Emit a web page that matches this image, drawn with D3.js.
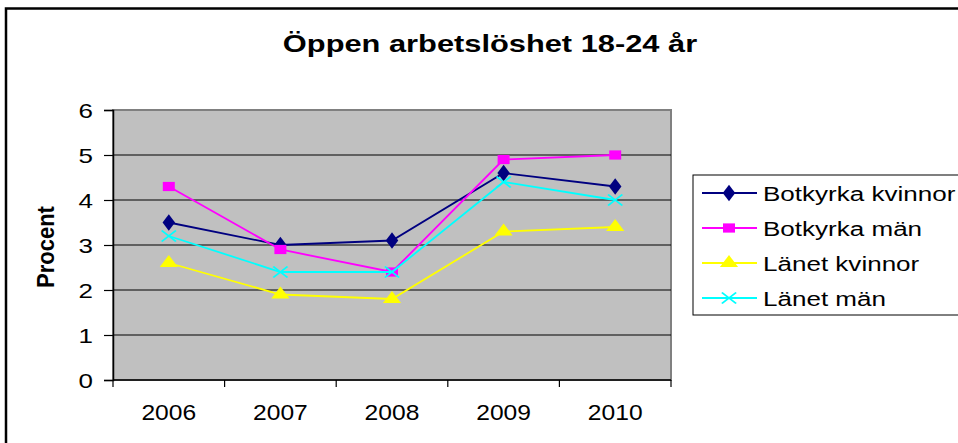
<!DOCTYPE html>
<html><head><meta charset="utf-8">
<script src="https://cdn.jsdelivr.net/npm/d3@7"></script>
<style>body{margin:0;background:#fff;}svg{display:block;font-family:"Liberation Sans",Arial,sans-serif;}</style>
</head><body>
<svg id="c" width="958" height="443"></svg>
<script>
const years = ["2006","2007","2008","2009","2010"];
const botkyrkaKvinnor = [3.5, 3.0, 3.1, 4.6, 4.3];
const botkyrkaMan = [4.3, 2.9, 2.4, 4.9, 5.0];
const lanetKvinnor = [2.6, 1.9, 1.8, 3.3, 3.4];
const lanetMan = [3.2, 2.4, 2.4, 4.4, 4.0];
const yTicks = [0,1,2,3,4,5,6];
const seriesNames = ["Botkyrka kvinnor","Botkyrka män","Länet kvinnor","Länet män"];

const series = [
  {name: seriesNames[0], values: botkyrkaKvinnor, color: "#000080", sym: "diamond"},
  {name: seriesNames[1], values: botkyrkaMan, color: "#ff00ff", sym: "square"},
  {name: seriesNames[2], values: lanetKvinnor, color: "#ffff00", sym: "triangle"},
  {name: seriesNames[3], values: lanetMan, color: "#00ffff", sym: "x"}
];

const svg = d3.select("#c");
const L = 113, R = 671, T = 110, B = 380;

// outer border
svg.append("rect").attr("x", 6).attr("y", 8.5).attr("width", 1000).attr("height", 1000)
  .attr("fill", "none").attr("stroke", "#000").attr("stroke-width", 2.5);

const x = d3.scaleBand().domain(years).range([L, R]).padding(0);
const y = d3.scaleLinear().domain([0, 6]).range([B, T]);
const cx = d => x(d) + x.bandwidth() / 2;

// plot area
svg.append("rect").attr("x", L).attr("y", T).attr("width", R - L).attr("height", B - T)
  .attr("fill", "#c0c0c0").attr("stroke", "#808080").attr("stroke-width", 2);

// gridlines
svg.append("g").selectAll("line").data(yTicks.filter(v => v > 0 && v < 6)).join("line")
  .attr("x1", L).attr("x2", R).attr("y1", d => y(d)).attr("y2", d => y(d))
  .attr("stroke", "#000").attr("stroke-width", 1);

// y axis
const ya = svg.append("g").attr("transform", `translate(${L},0)`)
  .call(d3.axisLeft(y).tickValues(yTicks).tickSize(9).tickPadding(6).tickFormat(d3.format("d")));
ya.select(".domain").attr("stroke", "#000").attr("stroke-width", 1.5);
ya.selectAll(".tick line").attr("stroke", "#000").attr("stroke-width", 1.2);
ya.selectAll(".tick text").attr("font-size", 20).attr("fill", "#000")
  .attr("font-family", "Liberation Sans, Arial, sans-serif")
  .attr("transform", "scale(1.3,1)").attr("x", -20/1.3).attr("dy", "0.36em");

// x axis
const xa = svg.append("g").attr("transform", `translate(0,${B})`)
  .call(d3.axisBottom(x).tickSize(0).tickPadding(24));
xa.select(".domain").remove();
xa.selectAll(".tick text").attr("font-size", 22).attr("fill", "#000")
  .attr("font-family", "Liberation Sans, Arial, sans-serif")
  .attr("transform", "scale(1.12,1)").attr("x", 0);
xa.selectAll(".tick").each(function(d){
  d3.select(this).attr("transform", `translate(${cx(d)},0)`);
});
svg.append("line").attr("x1", L).attr("x2", R).attr("y1", B).attr("y2", B)
  .attr("stroke", "#000").attr("stroke-width", 1.5);
const edges = years.map(d => x(d)).concat([R]);
svg.append("g").selectAll("line").data(edges).join("line")
  .attr("x1", d => d).attr("x2", d => d).attr("y1", B).attr("y2", B + 7)
  .attr("stroke", "#000").attr("stroke-width", 1.2);

// title
svg.append("text").attr("transform", "translate(490,52) scale(1.34,1.05)")
  .attr("text-anchor", "middle").attr("font-size", 23).attr("font-weight", "bold")
  .text("Öppen arbetslöshet 18-24 år");

// y label
svg.append("text").attr("transform", "translate(54,247) rotate(-90) scale(1,1.1)")
  .attr("text-anchor", "middle").attr("font-size", 22).attr("font-weight", "bold")
  .text("Procent");

function symPath(s) {
  const map = {diamond: d3.symbolDiamond, square: d3.symbolSquare, triangle: d3.symbolTriangle, x: d3.symbolTimes};
  const size = {diamond: 80, square: 85, triangle: 85, x: 80}[s];
  return d3.symbol(map[s], size)();
}

const line = d3.line().x((d, i) => cx(years[i])).y(d => y(d));
series.forEach(s => {
  const g = svg.append("g");
  g.append("path").attr("d", line(s.values)).attr("fill", "none")
    .attr("stroke", s.color).attr("stroke-width", 1.8);
  g.selectAll("path.m").data(s.values).join("path").attr("class", "m")
    .attr("d", symPath(s.sym))
    .attr("transform", (d, i) => `translate(${cx(years[i])},${y(d)}) scale(1.3,1)`)
    .attr("fill", s.sym === "x" ? "none" : s.color)
    .attr("stroke", s.sym === "x" ? s.color : "none").attr("stroke-width", 1.6);
});

// legend
const lg = svg.append("g");
lg.append("rect").attr("x", 693).attr("y", 175).attr("width", 400).attr("height", 140)
  .attr("fill", "#fff").attr("stroke", "#000").attr("stroke-width", 1);
const ly = d3.scalePoint().domain(seriesNames).range([193, 298]);
series.forEach(s => {
  const yy = ly(s.name);
  lg.append("line").attr("x1", 702).attr("x2", 757).attr("y1", yy).attr("y2", yy)
    .attr("stroke", s.color).attr("stroke-width", 1.8);
  lg.append("path").attr("d", symPath(s.sym))
    .attr("transform", `translate(729,${yy}) scale(1.3,1)`)
    .attr("fill", s.sym === "x" ? "none" : s.color)
    .attr("stroke", s.sym === "x" ? s.color : "none").attr("stroke-width", 1.6);
  lg.append("text").attr("transform", `translate(763,${yy + 7.5}) scale(1.24,1)`)
    .attr("font-size", 21).text(s.name);
});
</script>
</body></html>
